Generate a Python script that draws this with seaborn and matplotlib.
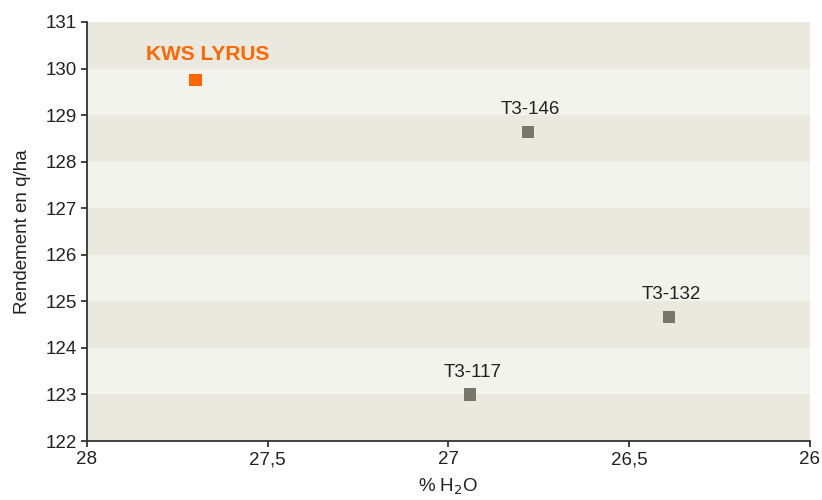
import numpy as np
import pandas as pd
import matplotlib
matplotlib.use("Agg")
import matplotlib.pyplot as plt
import seaborn as sns
from matplotlib.ticker import FuncFormatter

varieties = ["KWS LYRUS", "T3-146", "T3-132", "T3-117"]
humidity = [27.70, 26.78, 26.39, 26.94]
rendement = [129.76, 128.64, 124.67, 123.00]
groups = ["kws", "test", "test", "test"]

df = pd.DataFrame({"variete": varieties, "h2o": humidity,
                   "rdt": rendement, "groupe": groups})

sns.set_style("ticks")
plt.rcParams["font.family"] = ["Liberation Sans", "DejaVu Sans"]

fig = plt.figure(figsize=(8.22, 5), dpi=100)
ax = fig.add_axes([0.1058, 0.118, 0.8796, 0.838])

# alternating horizontal bands
for i, y0 in enumerate(range(122, 131)):
    color = "#eae9df" if i % 2 == 0 else "#f3f3ee"
    ax.axhspan(y0, y0 + 1, color=color, lw=0, zorder=0)

palette = {"kws": "#ff6600", "test": "#76776a"}
sns.scatterplot(data=df, x="h2o", y="rdt", hue="groupe", palette=palette,
                marker="s", s=78, edgecolor="none", legend=False, ax=ax, zorder=3)

for _, row in df.iterrows():
    if row["groupe"] == "kws":
        ax.annotate(row["variete"], (row["h2o"], row["rdt"]), xytext=(9, 11),
                    textcoords="offset points", ha="center", va="bottom",
                    color="#ff6600", fontsize=15, fontweight="bold")
    else:
        ax.annotate(row["variete"], (row["h2o"], row["rdt"]), xytext=(2, 10),
                    textcoords="offset points", ha="center", va="bottom",
                    color="#222222", fontsize=13.5)

ax.set_xlim(28, 26)
ax.set_ylim(122, 131)
ax.set_xticks([28, 27.5, 27, 26.5, 26])
ax.set_yticks(range(122, 132))
fmt = FuncFormatter(lambda v, p: ("%g" % v).replace(".", ","))
ax.xaxis.set_major_formatter(fmt)
ax.yaxis.set_major_formatter(fmt)

ax.set_xlabel("% H$_2$O", fontsize=13.5, color="#222222", labelpad=6)
ax.set_ylabel("Rendement en q/ha", fontsize=13.5, color="#222222", labelpad=10)
ax.tick_params(axis="both", labelsize=13.5, colors="#222222", length=4, width=1.2)
for side in ["top", "right"]:
    ax.spines[side].set_visible(False)
for side in ["left", "bottom"]:
    ax.spines[side].set_color("#333333")
    ax.spines[side].set_linewidth(1.3)
ax.grid(False)

fig.savefig("out.png", dpi=100)
